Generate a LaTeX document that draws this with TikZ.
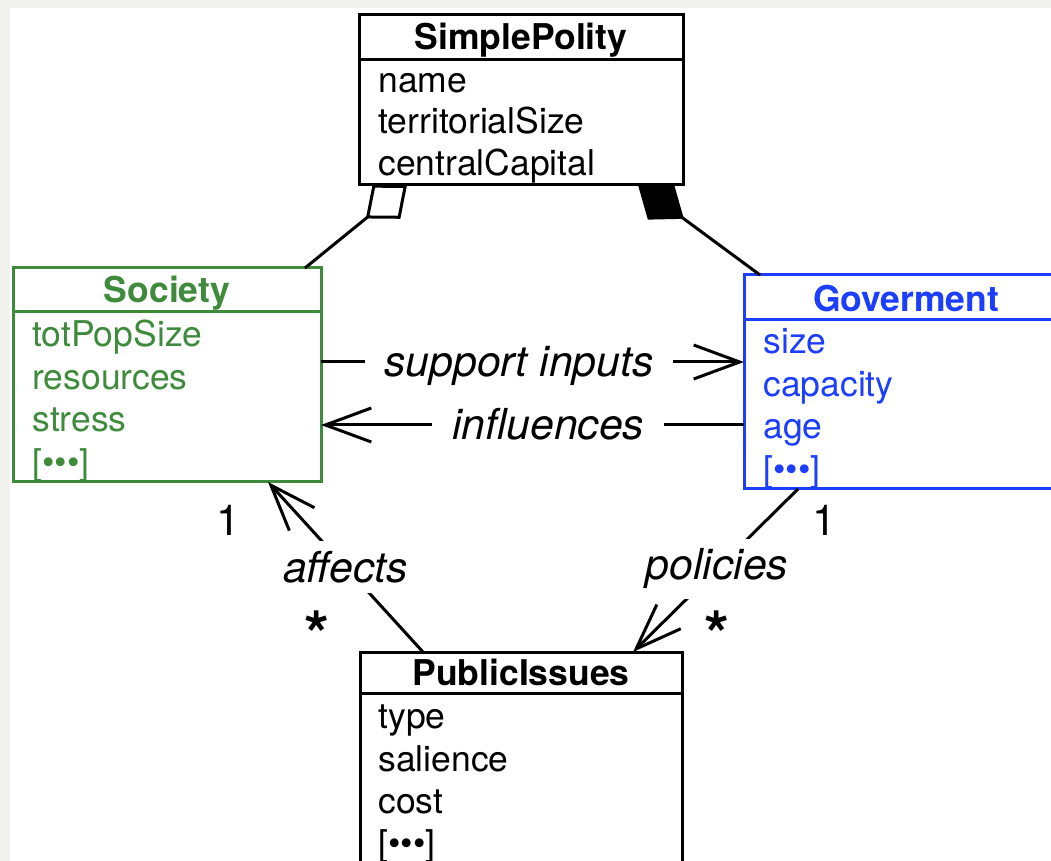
\documentclass[tikz,border=0pt]{standalone}
\usepackage{fontspec}
\setmainfont{TeX Gyre Heros}
\usetikzlibrary{arrows.meta}
\definecolor{socgreen}{RGB}{62,139,60}
\definecolor{govblue}{RGB}{28,62,255}
\definecolor{bggrey}{RGB}{241,241,237}
\newcommand{\bodyfont}{\fontsize{17.75pt}{21pt}\selectfont}
\newcommand{\lblfont}{\fontsize{21.35pt}{25pt}\selectfont}
\begin{document}
\begin{tikzpicture}[x=0.5pt,y=-0.5pt,
  classbox/.style={draw,line width=1.5pt,fill=white,anchor=north west,inner sep=0pt,outer sep=0pt},
  head/.style={anchor=base,inner sep=0pt,font=\bodyfont\bfseries},
  attr/.style={anchor=base west,inner sep=0pt,font=\bodyfont},
  sepline/.style={line width=1.5pt},
  assoc/.style={line width=1.5pt,-{Straight Barb[length=23pt,width=17pt]}},
  agg/.style={line width=1.5pt,-{Diamond[fill=white,length=26.5pt,width=22pt]}},
  comp/.style={line width=1.5pt,-{Diamond[length=28.5pt,width=22pt]}},
  lbl/.style={fill=white,inner xsep=10pt,inner ysep=5pt,font=\lblfont\itshape},
  mult/.style={inner sep=0pt,font=\lblfont},
  star/.style={inner sep=0pt,font=\fontsize{32pt}{34pt}\selectfont\bfseries}]
\useasboundingbox (0,0) rectangle (1051,861);
\clip (0,0) rectangle (1051,861);
\fill[bggrey] (0,0) rectangle (1051,861);
\fill[white] (10,8) rectangle (1051,861);

% SimplePolity
\node[classbox,minimum width=162pt,minimum height=85pt] (sp) at (359,15) {};
\draw[sepline] (sp.west |- 0,60) -- (sp.east |- 0,60);
\node[head] (sph) at (521,50) {SimplePolity};
\node[attr] (spa1) at (378,93) {name};
\node[attr] (spa2) at (378,134) {territorialSize};
\node[attr] (spa3) at (378,176) {centralCapital};

% Society
\node[classbox,draw=socgreen,minimum width=154pt,minimum height=107pt] (soc) at (13,268) {};
\draw[sepline,socgreen] (soc.west |- 0,312) -- (soc.east |- 0,312);
\node[head,text=socgreen] (soch) at (167,303) {Society};
\node[attr,text=socgreen] (soca1) at (32,347) {totPopSize};
\node[attr,text=socgreen] (soca2) at (32,390) {resources};
\node[attr,text=socgreen] (soca3) at (32,432) {stress};
\node[attr,text=socgreen] (soca4) at (32,475) {[•••]};

% Goverment
\node[classbox,draw=govblue,minimum width=162pt,minimum height=107pt] (gov) at (744,275) {};
\draw[sepline,govblue] (gov.west |- 0,320) -- (gov.east |- 0,320);
\node[head,text=govblue] (govh) at (906,312) {Goverment};
\node[attr,text=govblue] (gova1) at (763,354) {size};
\node[attr,text=govblue] (gova2) at (763,397) {capacity};
\node[attr,text=govblue] (gova3) at (763,439) {age};
\node[attr,text=govblue] (gova4) at (763,482) {[•••]};

% PublicIssues
\node[classbox,minimum width=161pt,minimum height=107pt] (pi) at (360,652) {};
\draw[sepline] (pi.west |- 0,693) -- (pi.east |- 0,693);
\node[head] (pih) at (521,685) {PublicIssues};
\node[attr] (pia1) at (378,728) {type};
\node[attr] (pia2) at (378,771) {salience};
\node[attr] (pia3) at (378,813) {cost};
\node[attr] (pia4) at (378,855) {[•••]};

% aggregation / composition
\draw[agg] ([xshift=146pt]soc.north west) -- ([xshift=24pt]sp.south west);
\draw[comp] ([xshift=8pt]gov.north west) -- ([xshift=139.5pt]sp.south west);

% associations
\draw[assoc] (soc.east |- 0,362) -- node[lbl,pos=0.468,yshift=-2pt] (l1) {support inputs} (gov.west |- 0,362);
\draw[assoc] (gov.west |- 0,425) -- node[lbl,pos=0.463,yshift=0.5pt] (l2) {influences} (soc.east |- 0,425);
\draw[assoc] ([xshift=31.5pt]pi.north west) -- node[lbl,pos=0.5] (l3) {affects} ([xshift=127.5pt]soc.south west);
\draw[assoc] ([xshift=27pt]gov.south west) -- node[lbl,pos=0.49] (l4) {policies} ([xshift=136.5pt]pi.north west);

% multiplicities
\node[mult] (m1) at (228,520) {1};
\node[star] (m2) at (317,634) {*};
\node[mult] (m3) at (824,520) {1};
\node[star] (m4) at (717,634) {*};
\end{tikzpicture}
\end{document}
